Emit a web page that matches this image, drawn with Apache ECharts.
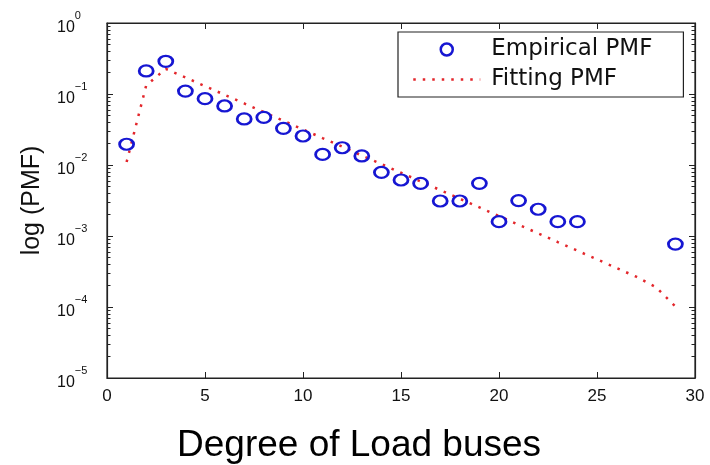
<!DOCTYPE html>
<html><head><meta charset="utf-8">
<script src="https://cdn.jsdelivr.net/npm/echarts@6/dist/echarts.min.js"></script>
<style>
html,body{margin:0;padding:0;background:#fff}
#wrap{position:relative;width:710px;height:465px}
#axes,#marks{position:absolute;left:0;top:0;width:710px;height:465px}
#marks{z-index:2}
</style>
</head><body><div id="wrap"><div id="axes"></div><div id="marks"></div></div>
<script>
// ---- data ----
const empiricalDegrees = [1,2,3,4,5,6,7,8,9,10,11,12,13,14,15,16,17,18,19,20,21,22,23,24,29];
const empiricalPMF = [0.0196,0.211,0.289,0.110,0.0859,0.0678,0.0445,0.0469,0.0328,0.0256,0.0141,0.0175,0.0134,0.00789,0.00615,0.00552,0.00311,0.00311,0.00552,0.00159,0.00315,0.00238,0.00159,0.00159,0.00077];
const fitDegrees = [1,2,3,4,5,6,7,8,9,10,11,12,13,14,15,16,17,18,19,20,21,22,23,24,25,26,27,28,29];
const fitPMF = [0.0110,0.132,0.226,0.171,0.129,0.0975,0.0736,0.0556,0.0420,0.0317,0.0239,0.0181,0.0136,0.0103,0.00778,0.00587,0.00444,0.00335,0.00253,0.00191,0.00144,0.00109,0.000822,0.000621,0.000469,0.000354,0.000267,0.000191,0.000102];
const seriesNames = ['Empirical PMF','Fitting PMF'];
const yMajorTicks = [1e-5,1e-4,1e-3,1e-2,1e-1,1];
const yTickExponents = ['\u22125','\u22124','\u22123','\u22122','\u22121','0'];
const xAxisTitle = 'Degree of Load buses';
const yAxisTitle = 'log (PMF)';

// minor log ticks (2..9 within each decade)
const yMinorTicks = [];
for (let d = -5; d < 0; d++) for (let k = 2; k <= 9; k++) yMinorTicks.push(Number((k * Math.pow(10, d)).toPrecision(3)));

const BLUE = '#1616d2', RED = '#e3262b', AX = '#222';
const GRID = { left: 107, right: 15, top: 23, bottom: 87 };

const empiricalData = empiricalDegrees.map((x, i) => [x, empiricalPMF[i]]);
const fitData = fitDegrees.map((x, i) => [x, fitPMF[i]]);

function logAxis(position, showLabels, ticks, tickLen, showLine) {
  return {
    type: 'log', logBase: 10, min: 1e-5, max: 1, position: position,
    axisLine: { show: showLine, onZero: false, lineStyle: { color: AX, width: 1.2 } },
    axisTick: { show: true, inside: true, length: tickLen, customValues: ticks, lineStyle: { color: AX, width: 1 } },
    splitLine: { show: false },
    axisLabel: showLabels ? {
      show: true, customValues: yMajorTicks, align: 'left', margin: 50,
      formatter: function (v) {
        const e = Math.round(Math.log10(v));
        return '{b|10}{s|' + yTickExponents[e + 5] + '}';
      },
      rich: {
        b: { fontSize: 16, color: '#111', lineHeight: 26, verticalAlign: 'bottom' },
        s: { fontSize: 11, color: '#111', lineHeight: 11, verticalAlign: 'top' }
      }
    } : { show: false }
  };
}

function xAxisDef(position, showLabels) {
  return {
    type: 'value', min: 0, max: 30, interval: 5, position: position,
    axisLine: { show: true, onZero: false, lineStyle: { color: AX, width: 1.2 } },
    axisTick: { show: true, inside: true, length: 6, lineStyle: { color: AX, width: 1 } },
    splitLine: { show: false },
    axisLabel: showLabels ? { show: true, margin: 10, fontSize: 17, color: '#111' } : { show: false }
  };
}

// Layer 1: frame, axes, ticks and tick labels
const axesChart = echarts.init(document.getElementById('axes'));
axesChart.setOption({
  animation: false,
  backgroundColor: '#fff',
  grid: Object.assign({ show: true, borderColor: AX, borderWidth: 1.2, backgroundColor: 'transparent' }, GRID),
  xAxis: [xAxisDef('bottom', true), xAxisDef('top', false)],
  yAxis: [
    Object.assign(logAxis('left', true, yMajorTicks, 6, true), {
      name: yAxisTitle, nameLocation: 'middle', nameGap: 62,
      nameTextStyle: { fontFamily: 'Liberation Sans, Arial', fontSize: 25, color: '#111' }
    }),
    logAxis('left', false, yMinorTicks, 3.5, false),
    logAxis('right', false, yMajorTicks, 6, true),
    logAxis('right', false, yMinorTicks, 3.5, false)
  ],
  series: []
});

// Layer 2: data marks, legend and the x title (same grid and scales, axes hidden)
const marksChart = echarts.init(document.getElementById('marks'));
marksChart.setOption({
  animation: false,
  grid: GRID,
  xAxis: { type: 'value', min: 0, max: 30, interval: 5, show: false },
  yAxis: { type: 'log', logBase: 10, min: 1e-5, max: 1, show: false },
  title: {
    text: xAxisTitle, left: 177, top: 427, padding: 0,
    textStyle: { fontFamily: 'Liberation Sans, Arial', fontSize: 37, fontWeight: 'normal', color: '#000', lineHeight: 37 }
  },
  legend: {
    orient: 'vertical', left: 398, top: 32, padding: [6, 31, 6, 14],
    itemWidth: 67, itemHeight: 12, itemGap: 7,
    borderColor: AX, borderWidth: 1.2, backgroundColor: '#fff',
    textStyle: { fontFamily: 'DejaVu Sans', fontSize: 23, color: '#111', lineHeight: 22, padding: [0, 0, 0, 6] },
    data: [
      { name: seriesNames[0], icon: 'circle', itemStyle: { color: 'rgba(0,0,0,0)', borderColor: BLUE, borderWidth: 2.5 } },
      { name: seriesNames[1], itemStyle: { color: 'rgba(0,0,0,0)', borderWidth: 0, opacity: 0 },
        lineStyle: { color: RED, width: 2.5, type: [2.5, 7], cap: 'butt', opacity: 1 } }
    ]
  },
  series: [
    {
      name: seriesNames[1], type: 'line', data: fitData, symbol: 'none', z: 2,
      lineStyle: { color: RED, width: 2.5, type: [2.5, 7], cap: 'butt' }, itemStyle: { color: RED }
    },
    {
      name: seriesNames[0], type: 'scatter', data: empiricalData, symbol: 'circle', symbolSize: [14, 11], z: 3,
      itemStyle: { color: 'rgba(0,0,0,0)', borderColor: BLUE, borderWidth: 2.5, opacity: 1 }
    }
  ]
});
</script></body></html>
